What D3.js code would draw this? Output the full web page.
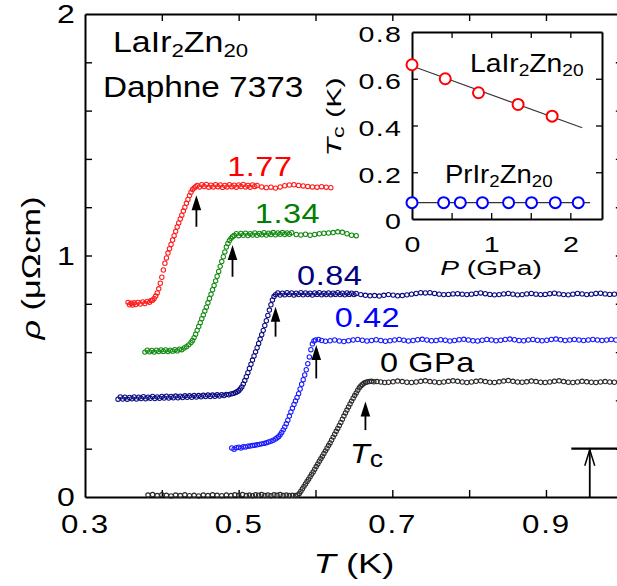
<!DOCTYPE html>
<html><head><meta charset="utf-8">
<script src="https://cdn.jsdelivr.net/npm/d3@7"></script>
<style>
body{margin:0;background:#fff}
svg{display:block}
text{font-family:"Liberation Sans",Arial,Helvetica,sans-serif}
</style>
</head><body>
<svg id="c" width="617" height="586"></svg>
<script>
// ---------------- DATA ----------------
// main panel: rho (µΩcm) vs T (K), one array per pressure (curves offset vertically)
const curve177 = [[0.356,0.806],[0.358,0.796],[0.360,0.802],[0.362,0.795],[0.364,0.804],[0.366,0.797],[0.369,0.806],[0.372,0.799],[0.375,0.808],[0.378,0.801],[0.381,0.810],[0.384,0.806],[0.386,0.814],[0.388,0.815],[0.390,0.822],[0.392,0.832],[0.394,0.845],[0.396,0.862],[0.398,0.885],[0.400,0.910],[0.402,0.940],[0.404,0.968],[0.406,0.990],[0.408,1.010],[0.410,1.028],[0.412,1.046],[0.414,1.064],[0.416,1.082],[0.418,1.100],[0.420,1.118],[0.422,1.135],[0.424,1.151],[0.426,1.167],[0.428,1.184],[0.430,1.200],[0.432,1.216],[0.434,1.232],[0.436,1.248],[0.438,1.262],[0.440,1.273],[0.442,1.280],[0.444,1.285],[0.446,1.290],[0.449,1.284],[0.452,1.293],[0.455,1.286],[0.458,1.294],[0.461,1.283],[0.464,1.291],[0.467,1.284],[0.470,1.293],[0.473,1.285],[0.476,1.292],[0.479,1.282],[0.482,1.290],[0.485,1.284],[0.488,1.293],[0.491,1.285],[0.494,1.291],[0.497,1.283],[0.500,1.292],[0.503,1.286],[0.506,1.294],[0.509,1.284],[0.512,1.290],[0.515,1.283],[0.518,1.292],[0.521,1.286],[0.524,1.290],[0.530,1.284],[0.536,1.281],[0.542,1.283],[0.548,1.279],[0.554,1.284],[0.560,1.289],[0.566,1.292],[0.572,1.293],[0.578,1.290],[0.584,1.288],[0.590,1.286],[0.596,1.284],[0.602,1.283],[0.608,1.285],[0.614,1.283],[0.620,1.281]];

const curve134 = [[0.378,0.600],[0.381,0.608],[0.384,0.601],[0.387,0.607],[0.390,0.600],[0.393,0.608],[0.396,0.602],[0.399,0.609],[0.402,0.603],[0.405,0.609],[0.408,0.602],[0.411,0.608],[0.414,0.604],[0.417,0.610],[0.420,0.605],[0.423,0.612],[0.426,0.610],[0.429,0.617],[0.432,0.622],[0.435,0.630],[0.438,0.640],[0.440,0.648],[0.442,0.660],[0.444,0.674],[0.446,0.690],[0.448,0.706],[0.450,0.722],[0.452,0.738],[0.454,0.754],[0.456,0.770],[0.458,0.786],[0.460,0.804],[0.462,0.822],[0.464,0.840],[0.466,0.858],[0.468,0.876],[0.470,0.895],[0.472,0.914],[0.474,0.934],[0.476,0.955],[0.478,0.975],[0.480,0.995],[0.482,1.015],[0.484,1.035],[0.486,1.050],[0.488,1.062],[0.490,1.071],[0.492,1.078],[0.494,1.083],[0.497,1.090],[0.500,1.082],[0.503,1.091],[0.506,1.084],[0.509,1.092],[0.512,1.083],[0.515,1.090],[0.518,1.085],[0.521,1.093],[0.524,1.084],[0.527,1.091],[0.530,1.086],[0.533,1.094],[0.536,1.085],[0.539,1.092],[0.542,1.087],[0.545,1.095],[0.548,1.086],[0.551,1.093],[0.554,1.088],[0.557,1.095],[0.560,1.087],[0.563,1.093],[0.566,1.088],[0.569,1.094],[0.575,1.087],[0.581,1.085],[0.587,1.088],[0.593,1.084],[0.599,1.087],[0.605,1.090],[0.611,1.092],[0.617,1.093],[0.623,1.095],[0.629,1.098],[0.635,1.096],[0.641,1.090],[0.647,1.084],[0.653,1.082]];

const curve084 = [[0.343,0.405],[0.346,0.414],[0.349,0.406],[0.352,0.413],[0.355,0.405],[0.358,0.412],[0.361,0.407],[0.364,0.414],[0.367,0.406],[0.370,0.413],[0.373,0.408],[0.376,0.415],[0.379,0.407],[0.382,0.413],[0.385,0.409],[0.388,0.416],[0.391,0.408],[0.394,0.414],[0.397,0.409],[0.400,0.416],[0.403,0.410],[0.406,0.417],[0.409,0.410],[0.412,0.416],[0.415,0.411],[0.418,0.418],[0.421,0.411],[0.424,0.417],[0.427,0.412],[0.430,0.419],[0.433,0.413],[0.436,0.419],[0.439,0.413],[0.442,0.420],[0.445,0.414],[0.448,0.420],[0.451,0.415],[0.454,0.421],[0.457,0.416],[0.460,0.422],[0.463,0.416],[0.466,0.422],[0.469,0.417],[0.472,0.423],[0.475,0.418],[0.478,0.424],[0.481,0.420],[0.484,0.425],[0.487,0.423],[0.490,0.427],[0.493,0.429],[0.496,0.433],[0.498,0.436],[0.500,0.440],[0.502,0.447],[0.504,0.456],[0.506,0.468],[0.508,0.482],[0.510,0.498],[0.512,0.515],[0.514,0.532],[0.516,0.550],[0.518,0.567],[0.520,0.584],[0.522,0.601],[0.524,0.618],[0.526,0.636],[0.528,0.654],[0.530,0.672],[0.532,0.690],[0.534,0.710],[0.536,0.730],[0.538,0.752],[0.540,0.774],[0.542,0.796],[0.544,0.816],[0.546,0.830],[0.548,0.838],[0.551,0.845],[0.554,0.836],[0.557,0.844],[0.560,0.837],[0.563,0.846],[0.566,0.838],[0.569,0.845],[0.572,0.836],[0.575,0.844],[0.578,0.838],[0.581,0.846],[0.584,0.837],[0.587,0.845],[0.590,0.838],[0.593,0.844],[0.596,0.836],[0.599,0.845],[0.602,0.839],[0.605,0.846],[0.608,0.837],[0.611,0.844],[0.614,0.838],[0.617,0.845],[0.620,0.837],[0.623,0.844],[0.626,0.839],[0.629,0.846],[0.632,0.838],[0.635,0.844],[0.638,0.837],[0.641,0.845],[0.644,0.839],[0.647,0.844],[0.650,0.838],[0.653,0.843],[0.659,0.838],[0.665,0.835],[0.671,0.833],[0.677,0.834],[0.683,0.832],[0.689,0.835],[0.695,0.838],[0.701,0.836],[0.707,0.833],[0.713,0.834],[0.719,0.837],[0.725,0.840],[0.731,0.843],[0.737,0.846],[0.743,0.845],[0.749,0.846],[0.755,0.843],[0.761,0.840],[0.767,0.838],[0.773,0.839],[0.779,0.841],[0.785,0.842],[0.791,0.840],[0.797,0.838],[0.803,0.840],[0.809,0.843],[0.815,0.845],[0.821,0.842],[0.827,0.839],[0.833,0.837],[0.839,0.838],[0.845,0.841],[0.851,0.843],[0.857,0.840],[0.863,0.837],[0.869,0.838],[0.875,0.841],[0.881,0.843],[0.887,0.840],[0.893,0.838],[0.899,0.839],[0.905,0.842],[0.911,0.844],[0.917,0.841],[0.923,0.838],[0.929,0.837],[0.935,0.840],[0.941,0.843],[0.947,0.841],[0.953,0.838],[0.959,0.840],[0.965,0.843],[0.971,0.844],[0.977,0.841],[0.983,0.839],[0.989,0.840],[0.995,0.842]];

const curve042 = [[0.491,0.203],[0.494,0.198],[0.497,0.204],[0.500,0.206],[0.503,0.203],[0.506,0.208],[0.509,0.207],[0.512,0.210],[0.515,0.211],[0.518,0.213],[0.521,0.214],[0.524,0.216],[0.527,0.218],[0.530,0.220],[0.533,0.222],[0.536,0.225],[0.539,0.228],[0.542,0.231],[0.545,0.235],[0.548,0.240],[0.550,0.245],[0.552,0.250],[0.554,0.258],[0.556,0.267],[0.558,0.278],[0.560,0.290],[0.562,0.303],[0.564,0.318],[0.566,0.335],[0.568,0.352],[0.570,0.368],[0.572,0.383],[0.574,0.398],[0.576,0.412],[0.578,0.428],[0.580,0.447],[0.582,0.467],[0.584,0.486],[0.586,0.505],[0.588,0.527],[0.590,0.552],[0.592,0.580],[0.594,0.610],[0.596,0.634],[0.598,0.646],[0.600,0.650],[0.604,0.652],[0.608,0.648],[0.613,0.645],[0.619,0.647],[0.625,0.650],[0.631,0.646],[0.637,0.644],[0.643,0.647],[0.649,0.650],[0.655,0.652],[0.661,0.649],[0.667,0.646],[0.673,0.648],[0.679,0.651],[0.685,0.648],[0.691,0.645],[0.697,0.647],[0.703,0.650],[0.709,0.652],[0.715,0.649],[0.721,0.646],[0.727,0.648],[0.733,0.651],[0.739,0.653],[0.745,0.650],[0.751,0.647],[0.757,0.648],[0.763,0.651],[0.769,0.649],[0.775,0.646],[0.781,0.648],[0.787,0.651],[0.793,0.653],[0.799,0.650],[0.805,0.647],[0.811,0.646],[0.817,0.649],[0.823,0.652],[0.829,0.650],[0.835,0.647],[0.841,0.649],[0.847,0.652],[0.853,0.654],[0.859,0.651],[0.865,0.648],[0.871,0.647],[0.877,0.650],[0.883,0.652],[0.889,0.649],[0.895,0.647],[0.901,0.649],[0.907,0.652],[0.913,0.654],[0.919,0.651],[0.925,0.648],[0.931,0.650],[0.937,0.652],[0.943,0.650],[0.949,0.648],[0.955,0.650],[0.961,0.652],[0.967,0.650],[0.973,0.648],[0.979,0.650],[0.985,0.652],[0.991,0.650],[0.997,0.649]];

const curve000 = [[0.382,0.008],[0.388,0.010],[0.394,0.006],[0.400,0.009],[0.406,0.007],[0.412,0.004],[0.418,0.008],[0.424,0.006],[0.430,0.009],[0.436,0.005],[0.442,0.007],[0.448,0.004],[0.454,0.008],[0.460,0.006],[0.466,0.009],[0.472,0.007],[0.478,0.005],[0.484,0.008],[0.490,0.006],[0.495,0.009],[0.500,0.007],[0.505,0.010],[0.510,0.006],[0.514,0.008],[0.518,0.005],[0.522,0.009],[0.526,0.007],[0.530,0.010],[0.534,0.006],[0.538,0.008],[0.542,0.005],[0.546,0.009],[0.550,0.007],[0.554,0.010],[0.558,0.006],[0.562,0.008],[0.566,0.006],[0.570,0.007],[0.574,0.006],[0.577,0.008],[0.579,0.015],[0.581,0.024],[0.583,0.034],[0.585,0.044],[0.587,0.054],[0.589,0.064],[0.591,0.074],[0.593,0.084],[0.595,0.094],[0.597,0.104],[0.599,0.115],[0.601,0.126],[0.603,0.137],[0.605,0.148],[0.607,0.158],[0.609,0.169],[0.611,0.180],[0.613,0.191],[0.615,0.202],[0.617,0.213],[0.619,0.224],[0.621,0.236],[0.623,0.248],[0.625,0.260],[0.627,0.272],[0.629,0.284],[0.631,0.296],[0.633,0.309],[0.635,0.322],[0.637,0.335],[0.639,0.348],[0.641,0.360],[0.643,0.373],[0.645,0.385],[0.647,0.397],[0.649,0.409],[0.651,0.420],[0.653,0.431],[0.655,0.442],[0.657,0.452],[0.659,0.460],[0.661,0.466],[0.663,0.471],[0.665,0.474],[0.667,0.476],[0.670,0.478],[0.673,0.479],[0.676,0.477],[0.680,0.478],[0.685,0.476],[0.690,0.474],[0.695,0.475],[0.701,0.477],[0.707,0.480],[0.713,0.478],[0.719,0.475],[0.725,0.474],[0.731,0.476],[0.737,0.479],[0.743,0.481],[0.749,0.478],[0.755,0.476],[0.761,0.474],[0.767,0.476],[0.773,0.479],[0.779,0.481],[0.785,0.479],[0.791,0.476],[0.797,0.474],[0.803,0.476],[0.809,0.479],[0.815,0.481],[0.821,0.478],[0.827,0.475],[0.833,0.474],[0.839,0.477],[0.845,0.480],[0.851,0.482],[0.857,0.479],[0.863,0.476],[0.869,0.475],[0.875,0.477],[0.881,0.480],[0.887,0.478],[0.893,0.475],[0.899,0.474],[0.905,0.476],[0.911,0.479],[0.917,0.481],[0.923,0.478],[0.929,0.475],[0.935,0.474],[0.941,0.476],[0.947,0.479],[0.953,0.477],[0.959,0.475],[0.965,0.474],[0.971,0.476],[0.977,0.478],[0.983,0.476],[0.989,0.475],[0.995,0.477]];

const curveLabels = ["1.77", "1.34", "0.84", "0.42", "0 GPa"];
const curveColors = ["#ff0000", "#008000", "#000080", "#0000ff", "#000000"];
const markerColors = ["#ff1a1a", "#118a11", "#0a0a80", "#1a1aff", "#2a2a2a"];
// Tc arrows (T in K, arrow tip / tail in µΩcm)
const tcArrowT    = [0.445, 0.492, 0.548, 0.601, 0.665];
const tcArrowTip  = [1.250, 1.043, 0.788, 0.629, 0.395];
const tcArrowTail = [1.119, 0.912, 0.664, 0.491, 0.277];

// axis ticks
const xTickValues = [0.4, 0.5, 0.6, 0.7, 0.8, 0.9];
const xTickLabels = [0.3, 0.5, 0.7, 0.9];
const yTickValues = [0.2, 0.4, 0.6, 0.8, 1.0, 1.2, 1.4, 1.6, 1.8];
const yTickLabels = [0, 1, 2];

// scale bar: 0.2 µΩcm
const scaleBarRho = 0.2, scaleBarT = 0.957, scaleBarFromT = 0.933;

// inset: Tc vs P
const laPressure = [0, 0.42, 0.84, 1.34, 1.77];
const laTc       = [0.66, 0.60, 0.54, 0.49, 0.44];
const laFit      = [[0, 0.655], [2.15, 0.39]];
const prPressure = [0, 0.40, 0.61, 0.89, 1.22, 1.51, 1.81, 2.10];
const prTc       = [0.07, 0.07, 0.07, 0.07, 0.07, 0.07, 0.07, 0.07];
const prLine     = [[0, 0.07], [2.25, 0.07]];
const insetXTicks = [0.5, 1, 1.5, 2];
const insetXLabels = [0, 1, 2];
const insetYTicks = [0.2, 0.4, 0.6];
const insetYLabels = [0, 0.2, 0.4, 0.6, 0.8];

// ---------------- DRAW ----------------
const svg = d3.select("#c");
const curves = [curve177, curve134, curve084, curve042, curve000];

const x = d3.scaleLinear().domain([0.3, 1.0]).range([85, 622.8]);
const y = d3.scaleLinear().domain([0, 2]).range([497, 14]);

function rich(parent, px, py, parts, o) {
  const g = parent.append("g")
    .attr("transform", `translate(${px},${py}) rotate(${o.rotate || 0}) scale(${o.sx || 1},1)`);
  const t = g.append("text")
    .attr("text-anchor", o.anchor || "start")
    .attr("fill", o.fill || "#000")
    .attr("font-size", o.size)
    .attr("letter-spacing", o.ls || 0);
  parts.forEach(p => {
    t.append("tspan")
      .attr("dy", p.dy || 0)
      .attr("font-size", p.size || o.size)
      .attr("font-style", p.italic ? "italic" : null)
      .text(p.t);
  });
  return g;
}

function styleAxis(g, lw, tw) {
  g.select(".domain").attr("stroke", "#000").attr("stroke-width", lw);
  g.selectAll(".tick line").attr("stroke", "#000").attr("stroke-width", tw);
}

// main frame & ticks
styleAxis(svg.append("g").attr("transform", "translate(0,497)")
  .call(d3.axisBottom(x).tickValues(xTickValues).tickSizeInner(-7).tickSizeOuter(0).tickFormat("")), 2, 1.4);
styleAxis(svg.append("g").attr("transform", "translate(0,14)")
  .call(d3.axisTop(x).tickValues(xTickValues).tickSizeInner(-7).tickSizeOuter(0).tickFormat("")), 2, 1.4);
styleAxis(svg.append("g").attr("transform", "translate(85,0)")
  .call(d3.axisLeft(y).tickValues(yTickValues).tickSizeInner(-7).tickSizeOuter(0).tickFormat("")), 2, 1.4);
styleAxis(svg.append("g").attr("transform", "translate(622.8,0)")
  .call(d3.axisRight(y).tickValues(yTickValues).tickSizeInner(-7).tickSizeOuter(0).tickFormat("")), 2, 1.4);

// main tick labels
const xl = svg.append("g").attr("transform", "translate(0,497)")
  .call(d3.axisBottom(x).tickValues(xTickLabels).tickSize(0).tickPadding(18).tickFormat(d3.format(".1f")));
xl.select(".domain").remove();
xl.selectAll("text").attr("font-size", 25).attr("fill", "#000").attr("font-family", null)
  .attr("letter-spacing", 1.5).attr("transform", "scale(1.25,1)");
const yl = svg.append("g").attr("transform", "translate(85,0)")
  .call(d3.axisLeft(y).tickValues(yTickLabels).tickSize(0).tickFormat(d3.format("d")));
yl.select(".domain").remove();
yl.selectAll("text").attr("font-size", 25).attr("fill", "#000").attr("font-family", null)
  .attr("x", -8).attr("dy", "0.34em").attr("transform", "scale(1.28,1)");

// axis titles
rich(svg, 354, 573, [{t: "T", italic: true}, {t: " (K)"}], {size: 28, anchor: "middle", sx: 1.3});
rich(svg, 40, 268, [{t: "ρ", italic: true}, {t: " (μΩcm)"}], {size: 26, anchor: "middle", sx: 1.32, rotate: -90});

// titles
rich(svg, 113, 52, [{t: "LaIr"}, {t: "2", size: 19, dy: 5}, {t: "Zn", dy: -5}, {t: "20", size: 19, dy: 5}], {size: 29, sx: 1.17});
rich(svg, 103, 97, [{t: "Daphne 7373"}], {size: 29, sx: 1.15});

// data markers
curves.forEach((c, i) => {
  svg.append("g").selectAll("circle").data(c).join("circle")
    .attr("cx", d => x(d[0])).attr("cy", d => y(d[1])).attr("r", 2.2)
    .attr("fill", "none").attr("stroke", markerColors[i]).attr("stroke-width", 1.05);
});

// curve labels
const labelT   = [0.485, 0.521, 0.576, 0.625, 0.684];
const labelRho = [1.329, 1.135, 0.878, 0.704, 0.518];
curveLabels.forEach((s, i) => {
  rich(svg, x(labelT[i]), y(labelRho[i]), [{t: s}], {size: 27, sx: 1.2, fill: curveColors[i], ls: 0.5});
});

// Tc arrows
tcArrowT.forEach((t, i) => {
  const ax = x(t), yt = y(tcArrowTip[i]), yb = y(tcArrowTail[i]);
  svg.append("line").attr("x1", ax).attr("x2", ax).attr("y1", yb).attr("y2", yt + 10)
    .attr("stroke", "#000").attr("stroke-width", 1.8);
  svg.append("path").attr("d", `M${ax},${yt}L${ax - 4.8},${yt + 15}L${ax + 4.8},${yt + 15}Z`).attr("fill", "#000");
});
rich(svg, 350, 463, [{t: "T", italic: true}, {t: "c", size: 23, dy: 4}], {size: 28, sx: 1.15});

// scale bar
{
  const bx = x(scaleBarT), by = y(scaleBarRho);
  svg.append("line").attr("x1", x(scaleBarFromT)).attr("x2", x(1.0)).attr("y1", by).attr("y2", by)
    .attr("stroke", "#000").attr("stroke-width", 2.2);
  svg.append("line").attr("x1", bx).attr("x2", bx).attr("y1", y(0)).attr("y2", by)
    .attr("stroke", "#000").attr("stroke-width", 1.8);
  svg.append("path").attr("d", `M${bx - 5},${by + 17}L${bx},${by + 1}L${bx + 5},${by + 17}`)
    .attr("fill", "none").attr("stroke", "#000").attr("stroke-width", 1.5);
}

// ---------------- INSET ----------------
const xi = d3.scaleLinear().domain([0, 2.4]).range([412, 602]);
const yi = d3.scaleLinear().domain([0, 0.8]).range([219, 32]);
const ins = svg.append("g");
ins.append("rect").attr("x", 412).attr("y", 32).attr("width", 190).attr("height", 187).attr("fill", "#fff");
styleAxis(ins.append("g").attr("transform", "translate(0,219)")
  .call(d3.axisBottom(xi).tickValues(insetXTicks).tickSizeInner(-6).tickSizeOuter(0).tickFormat("")), 2, 1.3);
styleAxis(ins.append("g").attr("transform", "translate(0,32)")
  .call(d3.axisTop(xi).tickValues(insetXTicks).tickSizeInner(-6).tickSizeOuter(0).tickFormat("")), 2, 1.3);
styleAxis(ins.append("g").attr("transform", "translate(412,0)")
  .call(d3.axisLeft(yi).tickValues(insetYTicks).tickSizeInner(-6).tickSizeOuter(0).tickFormat("")), 2, 1.3);
styleAxis(ins.append("g").attr("transform", "translate(602,0)")
  .call(d3.axisRight(yi).tickValues(insetYTicks).tickSizeInner(-6).tickSizeOuter(0).tickFormat("")), 2, 1.3);

const ixl = ins.append("g").attr("transform", "translate(0,219)")
  .call(d3.axisBottom(xi).tickValues(insetXLabels).tickSize(0).tickPadding(17).tickFormat(d3.format("d")));
ixl.select(".domain").remove();
ixl.selectAll("text").attr("font-size", 22).attr("fill", "#000").attr("font-family", null).attr("transform", "scale(1.3,1)");
const iyl = ins.append("g").attr("transform", "translate(412,0)")
  .call(d3.axisLeft(yi).tickValues(insetYLabels).tickSize(0).tickFormat(d => d === 0 ? "0" : d3.format(".1f")(d)));
iyl.select(".domain").remove();
iyl.selectAll("text").attr("font-size", 22).attr("fill", "#000").attr("font-family", null)
  .attr("x", -7.5).attr("dy", "0.45em").attr("letter-spacing", 1).attr("transform", "scale(1.3,1)");

rich(ins, 491, 275, [{t: "P", italic: true}, {t: " (GPa)"}], {size: 21, anchor: "middle", sx: 1.34});
rich(ins, 341, 117, [{t: "T", italic: true}, {t: "c", size: 16, dy: 3}, {t: " (K)", dy: -3}], {size: 21, anchor: "middle", sx: 1.45, rotate: -90});

const lineI = d3.line().x(d => xi(d[0])).y(d => yi(d[1]));
ins.append("path").datum(laFit).attr("d", lineI).attr("fill", "none").attr("stroke", "#333").attr("stroke-width", 1.1);
ins.append("path").datum(prLine).attr("d", lineI).attr("fill", "none").attr("stroke", "#333").attr("stroke-width", 1.3);

ins.append("g").selectAll("circle").data(laPressure).join("circle")
  .attr("cx", d => xi(d)).attr("cy", (d, i) => yi(laTc[i])).attr("r", 5.5)
  .attr("fill", "#fff").attr("stroke", "#ff0000").attr("stroke-width", 2);
ins.append("g").selectAll("circle").data(prPressure).join("circle")
  .attr("cx", d => xi(d)).attr("cy", (d, i) => yi(prTc[i])).attr("r", 5.5)
  .attr("fill", "#fff").attr("stroke", "#0000ff").attr("stroke-width", 2);

rich(ins, 470, 72, [{t: "LaIr"}, {t: "2", size: 17, dy: 4}, {t: "Zn", dy: -4}, {t: "20", size: 17, dy: 4}], {size: 25, sx: 1.13});
rich(ins, 445, 183, [{t: "PrIr"}, {t: "2", size: 17, dy: 4}, {t: "Zn", dy: -4}, {t: "20", size: 17, dy: 4}], {size: 25, sx: 1.1});
</script>
</body></html>
